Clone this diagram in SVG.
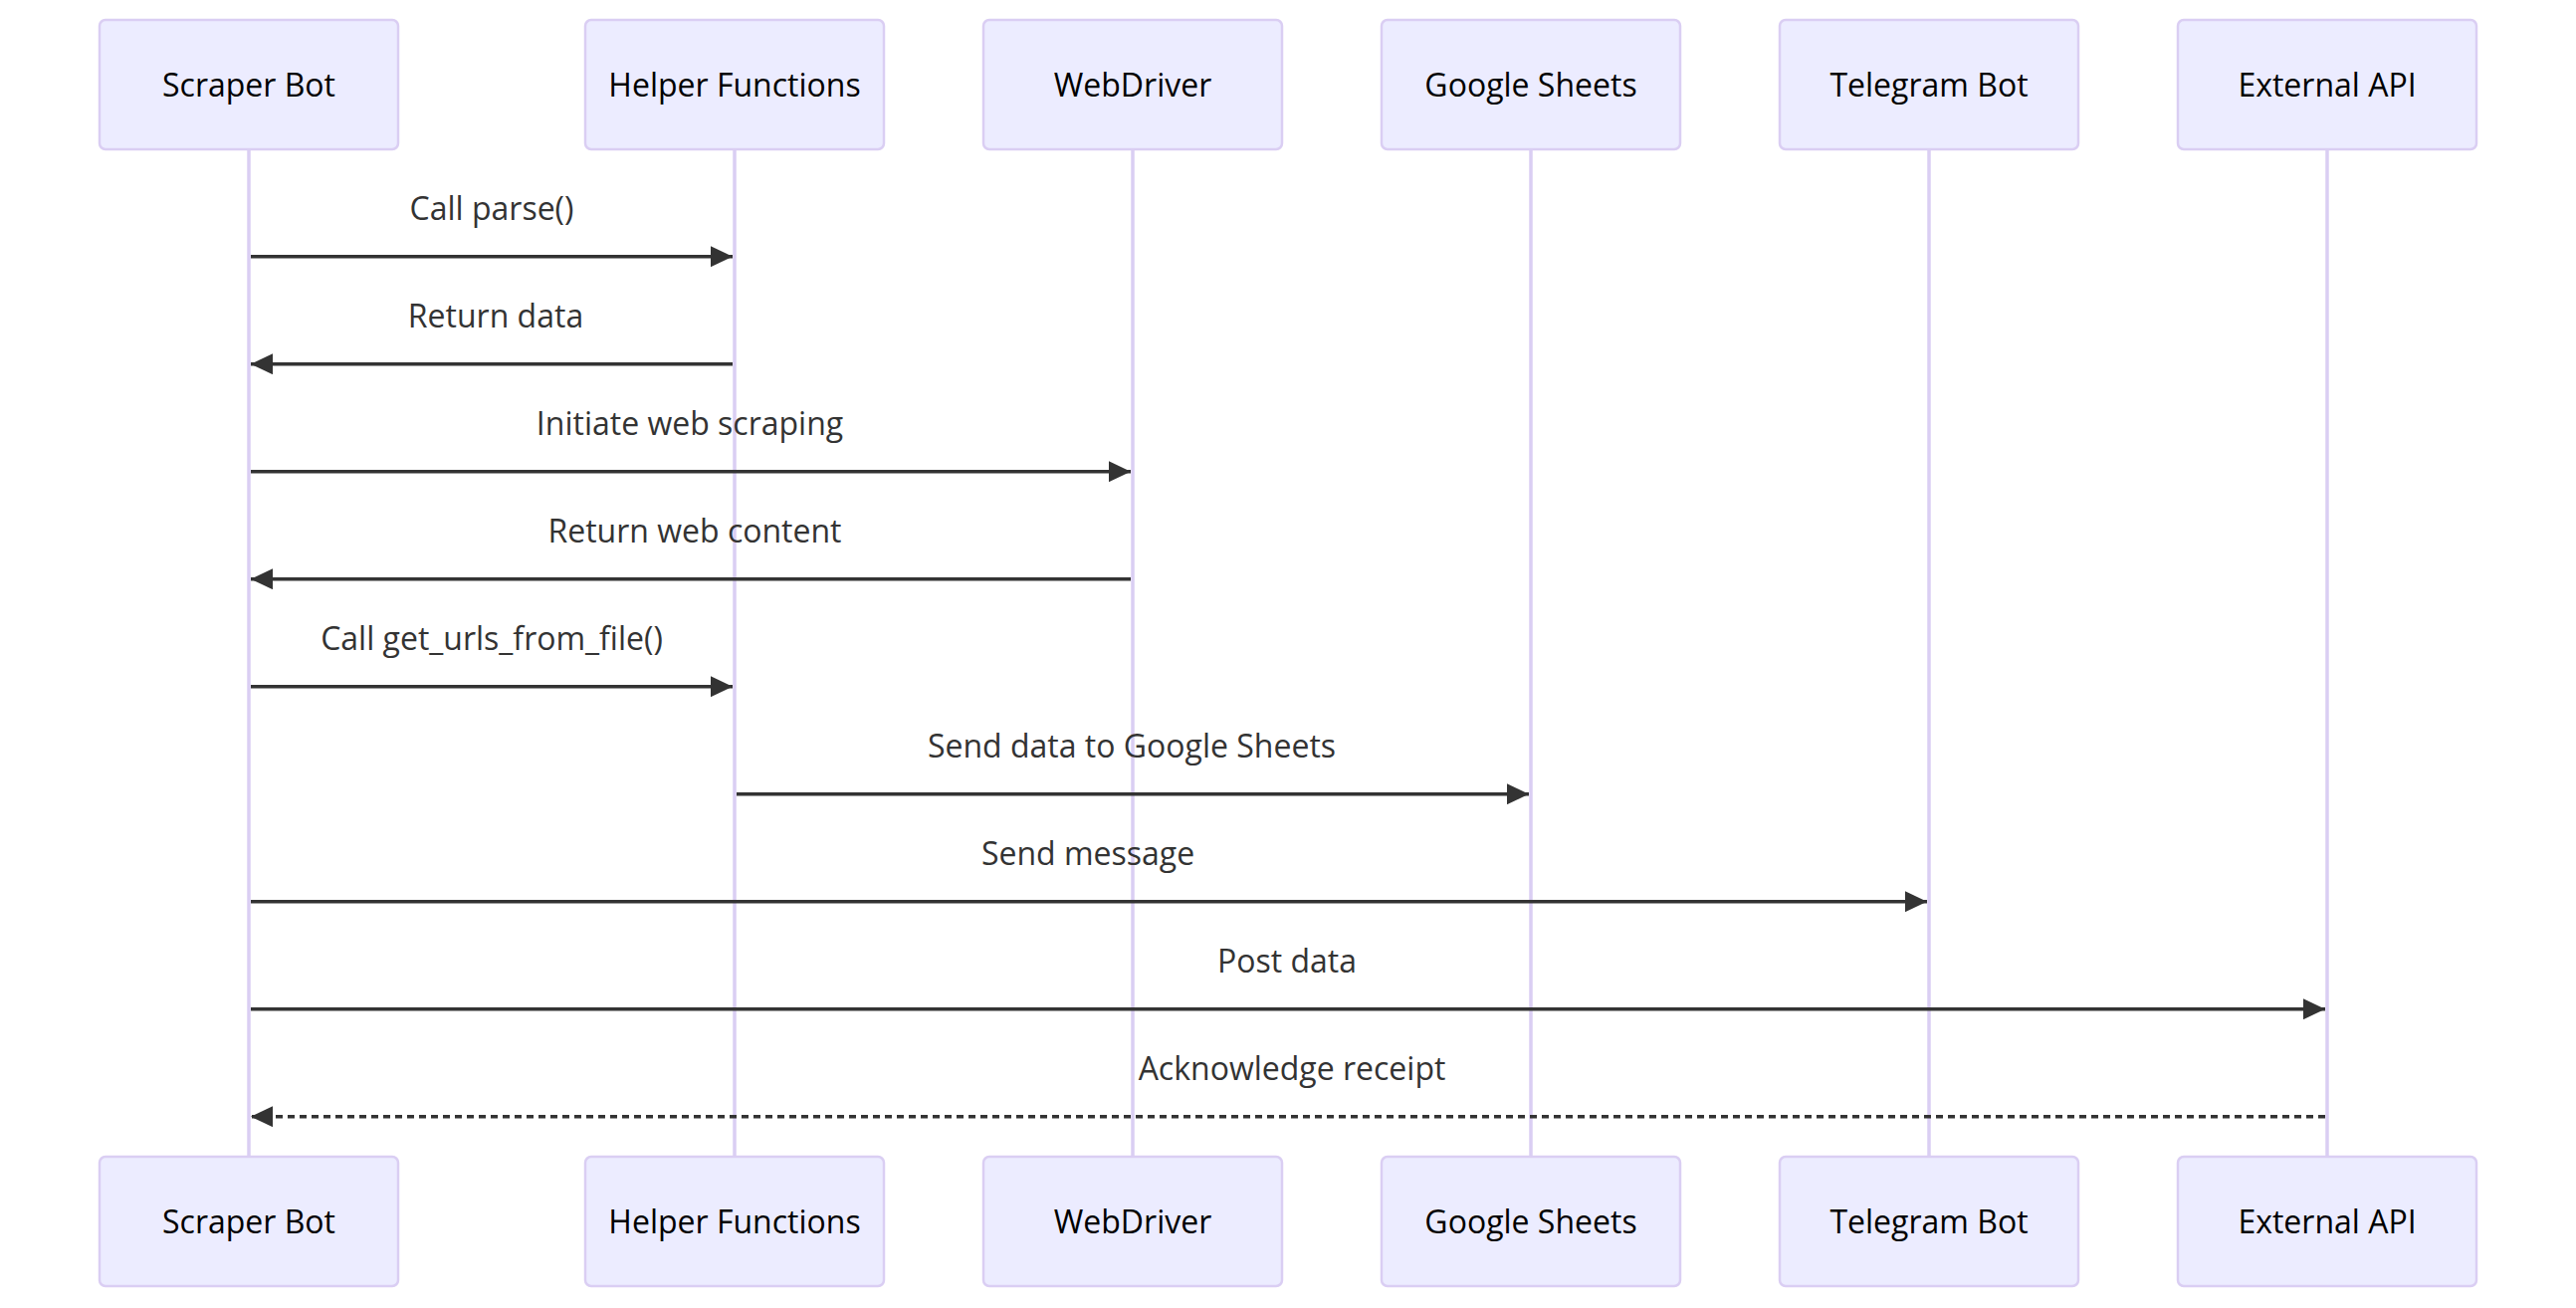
<svg xmlns="http://www.w3.org/2000/svg" width="2588" height="1314" viewBox="0 0 2588 1314">
<style>
.actor{fill:#ECECFF;stroke:#DACEF3;stroke-width:2.5}
.atext{font-family:"Open Sans","Liberation Sans",sans-serif;font-size:32px;fill:#000;text-anchor:middle}
.life{stroke:#DACEF3;stroke-width:3.5}
.msg{stroke:#333;stroke-width:3.5;fill:none}
.dash{stroke-dasharray:7,5}
.mtext{font-family:"Open Sans","Liberation Sans",sans-serif;font-size:32px;fill:#333;text-anchor:middle}
</style>
<defs>
<marker id="arrow" markerUnits="userSpaceOnUse" viewBox="0 0 22 21" refX="22" refY="10.5" markerWidth="22" markerHeight="21" orient="auto">
<path d="M0 0 L22 10.5 L0 21 z" fill="#333"/>
</marker>
</defs>
<rect width="2588" height="1314" fill="#fff"/>
<g id="lifelines">
<line class="life" x1="250" y1="150" x2="250" y2="1162"/>
<line class="life" x1="738" y1="150" x2="738" y2="1162"/>
<line class="life" x1="1138" y1="150" x2="1138" y2="1162"/>
<line class="life" x1="1538" y1="150" x2="1538" y2="1162"/>
<line class="life" x1="1938" y1="150" x2="1938" y2="1162"/>
<line class="life" x1="2338" y1="150" x2="2338" y2="1162"/>
</g>
<g id="scraper-bot">
<rect class="actor" x="100" y="20" width="300" height="130" rx="6"/>
<text class="atext" x="250" y="97">Scraper Bot</text>
<rect class="actor" x="100" y="1162" width="300" height="130" rx="6"/>
<text class="atext" x="250" y="1239">Scraper Bot</text>
</g>
<g id="helper-functions">
<rect class="actor" x="588" y="20" width="300" height="130" rx="6"/>
<text class="atext" x="738" y="97">Helper Functions</text>
<rect class="actor" x="588" y="1162" width="300" height="130" rx="6"/>
<text class="atext" x="738" y="1239">Helper Functions</text>
</g>
<g id="webdriver">
<rect class="actor" x="988" y="20" width="300" height="130" rx="6"/>
<text class="atext" x="1138" y="97">WebDriver</text>
<rect class="actor" x="988" y="1162" width="300" height="130" rx="6"/>
<text class="atext" x="1138" y="1239">WebDriver</text>
</g>
<g id="google-sheets">
<rect class="actor" x="1388" y="20" width="300" height="130" rx="6"/>
<text class="atext" x="1538" y="97">Google Sheets</text>
<rect class="actor" x="1388" y="1162" width="300" height="130" rx="6"/>
<text class="atext" x="1538" y="1239">Google Sheets</text>
</g>
<g id="telegram-bot">
<rect class="actor" x="1788" y="20" width="300" height="130" rx="6"/>
<text class="atext" x="1938" y="97">Telegram Bot</text>
<rect class="actor" x="1788" y="1162" width="300" height="130" rx="6"/>
<text class="atext" x="1938" y="1239">Telegram Bot</text>
</g>
<g id="external-api">
<rect class="actor" x="2188" y="20" width="300" height="130" rx="6"/>
<text class="atext" x="2338" y="97">External API</text>
<rect class="actor" x="2188" y="1162" width="300" height="130" rx="6"/>
<text class="atext" x="2338" y="1239">External API</text>
</g>
<g id="connectors">
<line class="msg" x1="252" y1="257.7" x2="736" y2="257.7" marker-end="url(#arrow)"/>
<text class="mtext" x="494" y="221">Call parse()</text>
<line class="msg" x1="736" y1="365.7" x2="252" y2="365.7" marker-end="url(#arrow)"/>
<text class="mtext" x="498" y="329">Return data</text>
<line class="msg" x1="252" y1="473.7" x2="1136" y2="473.7" marker-end="url(#arrow)"/>
<text class="mtext" x="693" y="437">Initiate web scraping</text>
<line class="msg" x1="1136" y1="581.7" x2="252" y2="581.7" marker-end="url(#arrow)"/>
<text class="mtext" x="698" y="545">Return web content</text>
<line class="msg" x1="252" y1="689.7" x2="736" y2="689.7" marker-end="url(#arrow)"/>
<text class="mtext" x="494" y="653">Call get_urls_from_file()</text>
<line class="msg" x1="740" y1="797.7" x2="1536" y2="797.7" marker-end="url(#arrow)"/>
<text class="mtext" x="1137" y="761">Send data to Google Sheets</text>
<line class="msg" x1="252" y1="905.7" x2="1936" y2="905.7" marker-end="url(#arrow)"/>
<text class="mtext" x="1093" y="869">Send message</text>
<line class="msg" x1="252" y1="1013.7" x2="2336" y2="1013.7" marker-end="url(#arrow)"/>
<text class="mtext" x="1293" y="977">Post data</text>
<line class="msg dash" x1="2336" y1="1121.7" x2="252" y2="1121.7" marker-end="url(#arrow)"/>
<text class="mtext" x="1298" y="1085">Acknowledge receipt</text>
</g>
</svg>
